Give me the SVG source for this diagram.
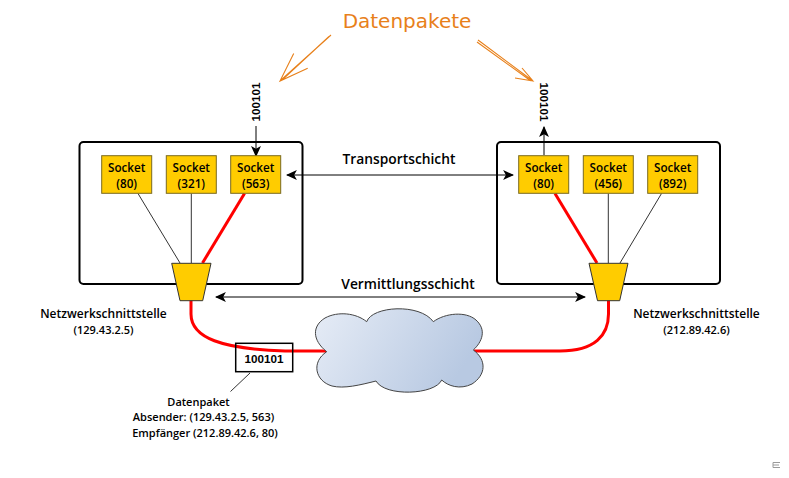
<svg xmlns="http://www.w3.org/2000/svg" width="789" height="478" viewBox="0 0 789 478">
<style>
text{font-family:"Open Sans","Noto Sans","Liberation Sans",sans-serif;font-weight:600;fill:#000;text-anchor:middle}
.s{font-size:11.7px}
.l{font-size:11px}
.n{font-size:12px}
.h{font-size:13.8px}
.box{fill:#fff;stroke:#000;stroke-width:2}
.sock{fill:#ffcc00;stroke:#7a6a20;stroke-width:1}
.trap{fill:#ffcc00;stroke:#333;stroke-width:1}
.thin{stroke:#333;stroke-width:1;fill:none}
.red{stroke:#ff0000;stroke-width:3;fill:none}
.arr{stroke:#000;stroke-width:1;fill:none}
.or{stroke:#e8801a;stroke-width:1.1;fill:none}
.m{font-family:"Liberation Sans",sans-serif;font-weight:700}
</style>
<defs>
<marker id="ah" viewBox="0 0 10 10" refX="9" refY="5" markerWidth="11" markerHeight="11" markerUnits="userSpaceOnUse" orient="auto-start-reverse"><path d="M0,0.5 L10,5 L0,9.5 L2.5,5 Z" fill="#000"/></marker>
<linearGradient id="cl" x1="0" y1="0" x2="1" y2="0.3"><stop offset="0" stop-color="#e6ecf6"/><stop offset="1" stop-color="#b8c9e2"/></linearGradient>
</defs>
<rect width="789" height="478" fill="#fff"/>

<g id="host-left"><rect class="box" x="79.5" y="142" width="223" height="142" rx="4"/></g>
<g id="host-right"><rect class="box" x="497" y="142" width="223" height="142" rx="4"/></g>

<g id="connectors">
<path class="thin" d="M138,193.5 L180,263"/>
<path class="thin" d="M191.3,193.5 V263"/>
<path class="red" d="M244.5,193.5 L202.5,263"/>
<path class="red" d="M555,193.5 L597,263"/>
<path class="thin" d="M608.3,193.5 V263"/>
<path class="thin" d="M661.5,193.5 L620,263"/>
<path class="red" d="M191,300 V314 C191,338 222,349 285,351 L327,351"/>
<path class="red" d="M474,351 L560,351 C595,351 608.5,335 608.5,314 V300"/>
<path class="arr" d="M256,126 V156" marker-end="url(#ah)"/>
<path class="arr" d="M544,155 V127" marker-end="url(#ah)"/>
<path class="arr" d="M287,175 H513" marker-start="url(#ah)" marker-end="url(#ah)"/>
<path class="arr" d="M216,297 H585" marker-start="url(#ah)" marker-end="url(#ah)"/>
<path class="thin" d="M250,373 L230.5,391.5"/>
</g>

<g id="socket-l1"><rect class="sock" x="101.7" y="155.7" width="50" height="37.6"/><text class="s" x="126.7" y="172">Socket</text><text class="s" x="126.7" y="188">(80)</text></g>
<g id="socket-l2"><rect class="sock" x="166.3" y="155.7" width="50" height="37.6"/><text class="s" x="191.3" y="172">Socket</text><text class="s" x="191.3" y="188">(321)</text></g>
<g id="socket-l3"><rect class="sock" x="230.7" y="155.7" width="50" height="37.6"/><text class="s" x="255.7" y="172">Socket</text><text class="s" x="255.7" y="188">(563)</text></g>
<g id="socket-r1"><rect class="sock" x="518.7" y="155.7" width="50" height="37.6"/><text class="s" x="543.7" y="172">Socket</text><text class="s" x="543.7" y="188">(80)</text></g>
<g id="socket-r2"><rect class="sock" x="583.3" y="155.7" width="50" height="37.6"/><text class="s" x="608.3" y="172">Socket</text><text class="s" x="608.3" y="188">(456)</text></g>
<g id="socket-r3"><rect class="sock" x="647.7" y="155.7" width="50" height="37.6"/><text class="s" x="672.7" y="172">Socket</text><text class="s" x="672.7" y="188">(892)</text></g>

<g id="nic-left"><path class="trap" d="M171.7,263.3 H211 L202.7,300.7 H180 Z"/><text class="n" x="103.5" y="318">Netzwerkschnittstelle</text><text class="l" x="103.5" y="334">(129.43.2.5)</text></g>
<g id="nic-right"><path class="trap" d="M589,263.3 H628 L619.7,300.7 H597.5 Z"/><text class="n" x="696.5" y="318">Netzwerkschnittstelle</text><text class="l" x="696.5" y="334">(212.89.42.6)</text></g>

<g id="cloud"><path d="M326.7,351.7 C312,340 312,326 325,318 C338,311 356,313 366.7,321.7 C372,306 420,303 433.3,321.7 C445,313 466,311 476,320 C487,330 482,342 473.3,350 C487,360 486,375 472,384 C460,390 448,386 441.7,380 C435,395 385,397 376,381 C360,385 344,389 332,386 C315,381 311,362 326.7,351.7 Z" fill="url(#cl)" stroke="#444" stroke-width="1"/></g>

<g id="packet"><rect x="235.7" y="343.3" width="57" height="28.4" fill="none" stroke="#000" stroke-width="1.5"/><text class="s m" x="264" y="363">100101</text>
<text class="l" x="198.5" y="406">Datenpaket</text><text class="l" x="203.5" y="421">Absender: (129.43.2.5, 563)</text><text class="l" x="205" y="437">Empfänger (212.89.42.6, 80)</text></g>

<g id="labels">
<text class="h" x="399" y="164">Transportschicht</text>
<text class="h" x="408" y="289">Vermittlungsschicht</text>
<text class="s m" transform="translate(260,102) rotate(-90)">100101</text>
<text class="s m" transform="translate(539.5,102) rotate(90)">100101</text>
</g>

<g id="datenpakete">
<text x="407" y="28" style="font-family:'DejaVu Sans',sans-serif;font-weight:400;font-size:20px;fill:#e8801a">Datenpakete</text>
<path class="or" d="M331,35 L280,81 M329,36.5 L282,80 M293.7,53.5 L280,81 L307.7,68.3"/>
<path class="or" d="M478,40 L533,81 M477,42 L531,81 M522,68 L533,81 L515,78"/>
</g>

<path d="M780,462.5 H773 V467.5 H780 M773,465 H779" fill="none" stroke="#9a9a9a" stroke-width="1"/>
</svg>
